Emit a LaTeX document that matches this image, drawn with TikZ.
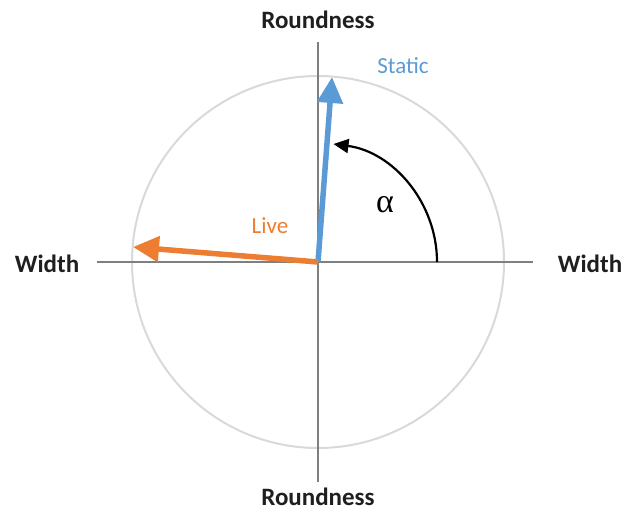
\documentclass[tikz,border=0pt]{standalone}
\usepackage{fontspec}
\setmainfont{Carlito}
\newfontfamily\greekfont{Liberation Serif}
\usetikzlibrary{arrows.meta}
\definecolor{staticblue}{HTML}{5B9BD5}
\definecolor{liveorange}{HTML}{ED7D31}
\definecolor{axisgray}{HTML}{7F7F7F}
\definecolor{circgray}{HTML}{D9D9D9}
\begin{document}
\begin{tikzpicture}[x=1pt,y=-1pt,
  axislabel/.style={font=\fontsize{25}{28}\selectfont\bfseries, text=black!88},
  axisline/.style={draw=axisgray, line width=1.6},
  vec/.style={line width=5.5, -{Triangle[length=26,width=25]}},
  anglearc/.style={line width=2.2, -{Triangle[length=15,width=14]}}]
\useasboundingbox (0,0) rectangle (628,514);
\coordinate (O) at (318,262);
\draw[circgray, line width=2] (O) circle[radius=186];
\coordinate (xl) at (97,262);
\coordinate (xr) at (533,262);
\coordinate (yt) at (318,42);
\coordinate (yb) at (318,482);
\draw[axisline] (xl) -- (xr);
\draw[axisline] (yt) -- (yb);
\node[axislabel] (rt) at (318,20) {Roundness};
\node[axislabel] (rb) at (318,497) {Roundness};
\node[axislabel] (wl) at (47,264) {Width};
\node[axislabel] (wr) at (590,264) {Width};
\coordinate (st) at (332,77);
\coordinate (lv) at (133,247);
\draw[vec, staticblue] (O) -- (st);
\draw[vec, liveorange] (O) -- (lv);
\node[text=staticblue, font=\fontsize{23}{26}\selectfont] (stl) at (403,66) {Static};
\node[text=liveorange, font=\fontsize{23}{26}\selectfont] (lvl) at (270,226) {Live};
\draw[anglearc] (437,262) arc[start angle=0, end angle=-82.5, radius=119];
\node[font=\fontsize{34}{36}\selectfont\greekfont] (al) at (385,205) {α};
\end{tikzpicture}
\end{document}
